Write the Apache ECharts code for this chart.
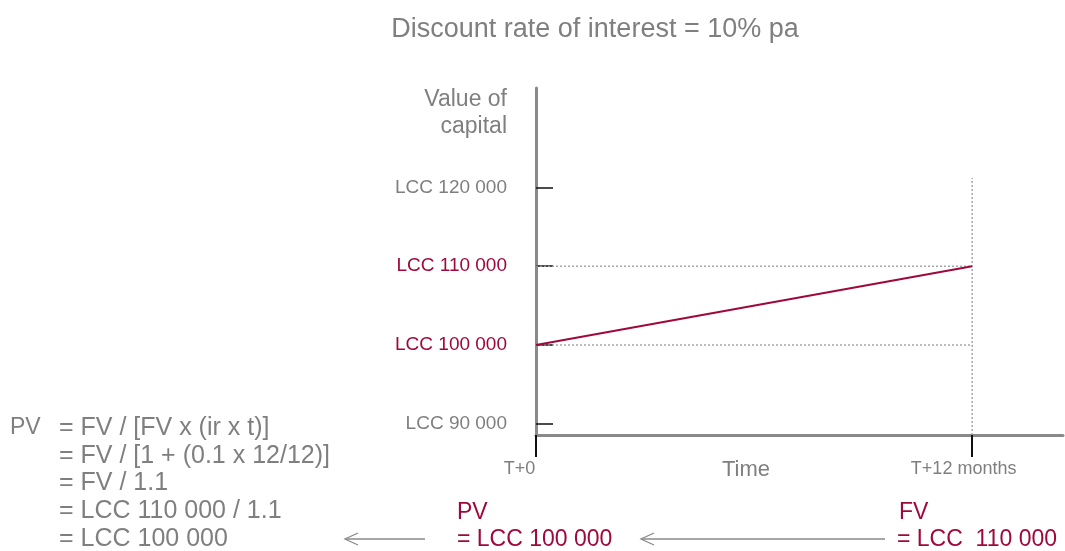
<!DOCTYPE html>
<html>
<head>
<meta charset="utf-8">
<script src="https://cdn.jsdelivr.net/npm/echarts@6/dist/echarts.min.js"></script>
<style>
  html, body { margin: 0; padding: 0; background: #fff; }
  #chart { width: 1065px; height: 551px; }
</style>
</head>
<body>
<div id="chart"></div>
<script>
// Capital value over time at a simple discount rate of 10% pa
const titleText = 'Discount rate of interest = 10% pa';
const yAxisTitle = ['Value of', 'capital'];
const xAxisTitle = 'Time';

// months from T+0
const timePoints = [0, 12];
const timeLabels = ['T+0', 'T+12 months'];
// value of capital (LCC) at each time point
const capitalValues = [100000, 110000];

const yTickValues = [90000, 100000, 110000, 120000];
const yTickLabels = ['LCC 90 000', 'LCC 100 000', 'LCC 110 000', 'LCC 120 000'];
const highlightedTicks = [100000, 110000];

const pvLabel = ['PV', '= LCC 100 000'];
const fvLabel = ['FV', '= LCC  110 000'];
const formulaHead = 'PV';
const formulaLines = [
  '= FV / [FV x (ir x t)]',
  '= FV / [1 + (0.1 x 12/12)]',
  '= FV / 1.1',
  '= LCC 110 000 / 1.1',
  '= LCC 100 000'
];

const RED = '#a0083c';
const GRAY = '#7f7f7f';
const AXIS = '#8a8a8a';
const FONT = '"Liberation Sans", Arial, Helvetica, sans-serif';

const yMin = 88570, yMax = 132630;
const xMin = 0, xMax = 14.5;
const guideTop = 121200;

const chart = echarts.init(document.getElementById('chart'), null, { renderer: 'canvas' });

const guideStyle = { color: '#999999', width: 1.3, type: [2, 2] };
function guide(points) {
  return {
    type: 'line', data: points, symbol: 'none', silent: true, z: 1,
    lineStyle: guideStyle, animation: false
  };
}

chart.setOption({
  animation: false,
  textStyle: { fontFamily: FONT },
  title: {
    text: titleText, left: 590, top: 11, textAlign: 'center',
    textStyle: { color: GRAY, fontSize: 27, fontWeight: 'normal', fontFamily: FONT }
  },
  grid: { left: 536, right: 2, top: 88, bottom: 116, containLabel: false },
  xAxis: {
    type: 'value', min: xMin, max: xMax,
    splitLine: { show: false },
    axisLine: { onZero: false, lineStyle: { color: AXIS, width: 3 } },
    axisTick: { customValues: timePoints, length: 22, lineStyle: { color: '#111', width: 2 } },
    axisLabel: {
      customValues: timePoints, margin: 25, color: GRAY, fontSize: 18, fontFamily: FONT,
      formatter: v => {
        const i = timePoints.indexOf(Number(v));
        return i === 0 ? '{a|' + timeLabels[i] + '}' : '{b|' + timeLabels[i] + '}';
      },
      rich: {
        a: { color: GRAY, fontSize: 18, fontFamily: FONT, padding: [0, 33, 0, 0] },
        b: { color: GRAY, fontSize: 18, fontFamily: FONT, padding: [0, 17, 0, 0] }
      }
    }
  },
  yAxis: {
    type: 'value', min: yMin, max: yMax,
    splitLine: { show: false },
    axisLine: { show: true, onZero: false, lineStyle: { color: AXIS, width: 3 } },
    axisTick: { inside: true, customValues: yTickValues, length: 17, lineStyle: { color: '#111', width: 1.5 } },
    axisLabel: {
      customValues: yTickValues, margin: 29, fontSize: 19, fontFamily: FONT,
      color: v => highlightedTicks.indexOf(Number(v)) >= 0 ? RED : GRAY,
      formatter: v => yTickLabels[yTickValues.indexOf(Number(v))]
    }
  },
  series: [
    guide([[timePoints[0], capitalValues[1]], [timePoints[1], capitalValues[1]]]),
    guide([[timePoints[0], capitalValues[0]], [timePoints[1], capitalValues[0]]]),
    guide([[timePoints[1], yMin], [timePoints[1], guideTop]]),
    {
      type: 'line', z: 3, symbol: 'none',
      data: timePoints.map((t, i) => [t, capitalValues[i]]),
      lineStyle: { color: RED, width: 2 }
    }
  ]
});

// Annotations: axis titles, PV / FV callouts, arrows and the working
function txt(x, y, text, opts) {
  return {
    type: 'text', x, y, silent: true,
    style: Object.assign({
      text, fill: GRAY, fontSize: 21, fontFamily: FONT,
      align: 'left', verticalAlign: 'middle'
    }, opts || {})
  };
}
function arrow(x1, x2, y) {
  return {
    type: 'group', silent: true,
    children: [
      { type: 'line', shape: { x1, y1: y, x2, y2: y }, style: { stroke: '#8a8a8a', lineWidth: 1.3 } },
      { type: 'polyline', shape: { points: [[x2 + 13, y - 6], [x2, y], [x2 + 13, y + 6]] },
        style: { stroke: '#8a8a8a', lineWidth: 1.3, fill: null } }
    ]
  };
}

const elements = [
  txt(507, 100, yAxisTitle[0], { align: 'right', fontSize: 23 }),
  txt(507, 127, yAxisTitle[1], { align: 'right', fontSize: 23 }),
  txt(746, 470, xAxisTitle, { align: 'center', fontSize: 22 }),
  txt(457, 513, pvLabel[0], { fill: RED, fontSize: 23 }),
  txt(457, 540, pvLabel[1], { fill: RED, fontSize: 23 }),
  txt(899, 513, fvLabel[0], { fill: RED, fontSize: 23 }),
  txt(897, 540, fvLabel[1], { fill: RED, fontSize: 23 }),
  arrow(885, 641, 539),
  arrow(425, 345, 539),
  txt(10, 428, formulaHead, { fontSize: 23 })
];
formulaLines.forEach((line, i) => {
  elements.push(txt(59, 428 + i * 27.8, line, { fontSize: 25 }));
});
chart.setOption({ graphic: { elements } });
</script>
</body>
</html>
